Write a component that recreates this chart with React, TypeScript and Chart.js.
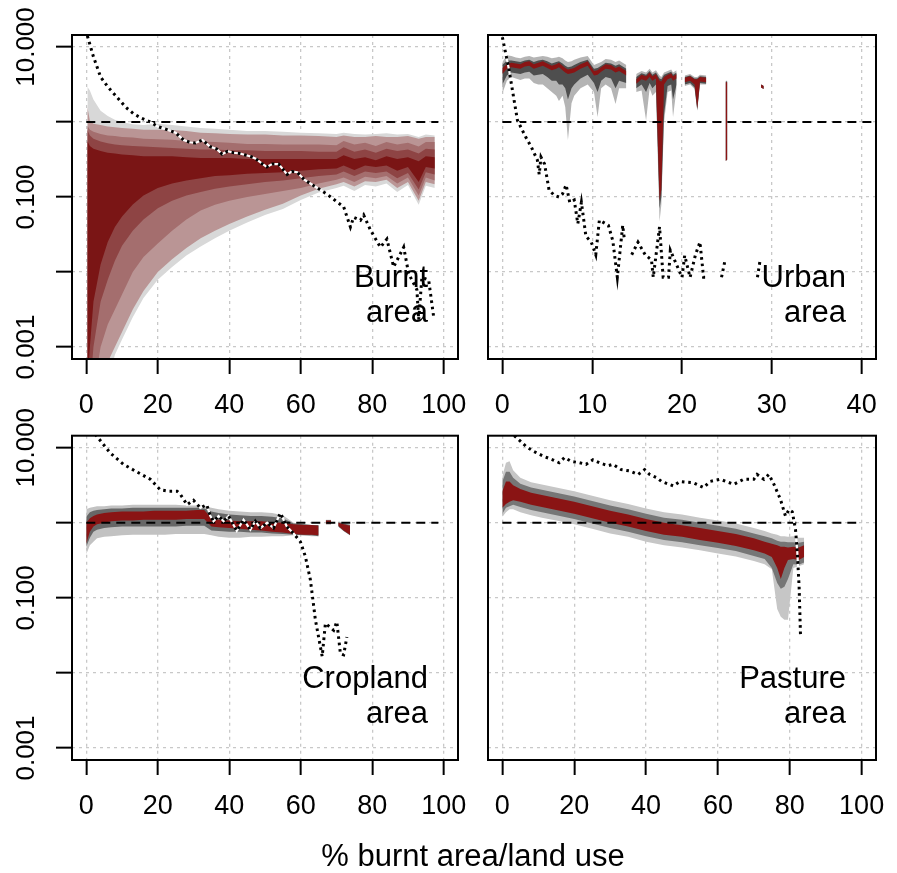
import React, { useEffect, useRef } from "react";
import { Chart, registerables } from "chart.js";

Chart.register(...registerables);

const FONT = '"Liberation Sans", Arimo, Arial, Helvetica, sans-serif';

// ---------- axes ----------
const Y_MIN = 0.000692;
const Y_MAX = 14.45;
const yTicks = [0.001, 0.01, 0.1, 1, 10];
const yTickLabels = ["0.001", "", "0.100", "", "10.000"];
const xTicksPct = [0, 20, 40, 60, 80, 100];
const xTicksUrban = [0, 10, 20, 30, 40];
const refLevel = 1;
const refEndPct = 98.5;
const refEndUrban = 41.2;

// ---------- Burnt area ----------
const burntX = [0.3, 1, 2, 4, 6, 8, 10, 13, 16, 20, 24, 28, 32, 36, 40, 45, 50, 55, 60, 65, 70, 72, 75, 78, 81, 84, 87, 90, 93, 95, 97.5];
const burntGrayHi = [2.95, 2.63, 2.0, 1.41, 1.2, 1.07, 1.0, 0.93, 0.91, 0.95, 0.91, 0.87, 0.83, 0.81, 0.79, 0.76, 0.76, 0.74, 0.72, 0.71, 0.69, 0.72, 0.69, 0.68, 0.69, 0.71, 0.68, 0.69, 0.63, 0.68, 0.66];
const burntGrayLo = [0.0001, 0.0001, 0.0001, 0.0001, 0.00032, 0.00079, 0.00126, 0.0025, 0.0045, 0.0079, 0.0117, 0.0166, 0.0219, 0.0282, 0.0355, 0.0457, 0.0575, 0.0692, 0.0912, 0.115, 0.132, 0.141, 0.12, 0.145, 0.138, 0.151, 0.117, 0.145, 0.079, 0.141, 0.132];
const burntQ1Hi = [1.58, 1.05, 0.95, 0.91, 0.87, 0.85, 0.83, 0.81, 0.79, 0.79, 0.78, 0.76, 0.72, 0.71, 0.69, 0.68, 0.68, 0.66, 0.66, 0.65, 0.63, 0.66, 0.63, 0.63, 0.65, 0.63, 0.63, 0.65, 0.6, 0.63, 0.63];
const burntQ1Lo = [0.0001, 0.0001, 0.0001, 0.00032, 0.00063, 0.001, 0.00158, 0.00316, 0.0056, 0.01, 0.0148, 0.0209, 0.0282, 0.0355, 0.0437, 0.055, 0.0676, 0.0813, 0.105, 0.129, 0.148, 0.158, 0.138, 0.162, 0.158, 0.17, 0.132, 0.158, 0.089, 0.158, 0.148];
const burntQ2Hi = [0.89, 0.79, 0.74, 0.69, 0.66, 0.65, 0.63, 0.62, 0.6, 0.59, 0.58, 0.56, 0.55, 0.54, 0.53, 0.51, 0.51, 0.5, 0.5, 0.5, 0.49, 0.56, 0.5, 0.53, 0.48, 0.54, 0.5, 0.53, 0.47, 0.54, 0.54];
const burntQ2Lo = [0.0001, 0.0001, 0.00025, 0.001, 0.002, 0.00316, 0.005, 0.01, 0.0158, 0.024, 0.0355, 0.05, 0.066, 0.079, 0.089, 0.1, 0.11, 0.12, 0.132, 0.151, 0.17, 0.182, 0.158, 0.186, 0.178, 0.191, 0.151, 0.182, 0.105, 0.182, 0.166];
const burntQ3Hi = [0.79, 0.66, 0.6, 0.55, 0.52, 0.5, 0.49, 0.48, 0.47, 0.46, 0.45, 0.44, 0.43, 0.43, 0.42, 0.42, 0.41, 0.41, 0.41, 0.4, 0.4, 0.46, 0.4, 0.43, 0.39, 0.44, 0.41, 0.43, 0.38, 0.44, 0.43];
const burntQ3Lo = [0.0001, 0.00025, 0.001, 0.004, 0.0079, 0.0141, 0.0224, 0.0355, 0.05, 0.0708, 0.0891, 0.105, 0.117, 0.129, 0.138, 0.148, 0.158, 0.166, 0.178, 0.191, 0.2, 0.219, 0.191, 0.219, 0.209, 0.219, 0.178, 0.209, 0.126, 0.214, 0.2];
const burntQ4Hi = [0.56, 0.48, 0.44, 0.41, 0.39, 0.38, 0.37, 0.36, 0.35, 0.35, 0.35, 0.34, 0.33, 0.33, 0.33, 0.32, 0.32, 0.32, 0.32, 0.32, 0.32, 0.36, 0.32, 0.34, 0.31, 0.35, 0.32, 0.34, 0.3, 0.35, 0.34];
const burntQ4Lo = [0.00032, 0.001, 0.004, 0.0126, 0.0251, 0.0398, 0.055, 0.0794, 0.105, 0.132, 0.151, 0.166, 0.178, 0.191, 0.195, 0.204, 0.209, 0.214, 0.224, 0.234, 0.24, 0.263, 0.229, 0.263, 0.251, 0.263, 0.224, 0.251, 0.158, 0.251, 0.24];
const burntLineX = [0.3, 2, 4, 6, 8.6, 11, 13.2, 15.5, 17.9, 20, 22.6, 25, 27.2, 29, 30.5, 32.5, 34.7, 36.5, 38, 39.5, 41.3, 43, 44.5, 46, 47.4, 49, 50.5, 52, 53.8, 56.2, 57.5, 59, 61, 64, 67.6, 70, 72, 73.9, 74.8, 76.7, 77.6, 79.5, 82.3, 84.1, 86, 88.8, 90.2, 92.5, 93, 93.9, 95.8, 97.2];
const burntLineY = [14.1, 7.41, 3.98, 2.95, 2.14, 1.58, 1.29, 1.12, 1.0, 0.87, 0.79, 0.72, 0.575, 0.537, 0.525, 0.575, 0.468, 0.437, 0.372, 0.407, 0.389, 0.38, 0.363, 0.347, 0.324, 0.282, 0.251, 0.275, 0.275, 0.2, 0.219, 0.214, 0.17, 0.138, 0.107, 0.087, 0.074, 0.0398, 0.0537, 0.049, 0.0575, 0.0363, 0.0214, 0.0275, 0.0117, 0.0214, 0.0095, 0.0058, 0.0023, 0.0085, 0.0078, 0.0025];

// ---------- Urban area ----------
const urbanX = [0, 0.5, 1, 1.5, 2, 2.5, 3, 3.5, 4, 4.5, 5, 5.5, 6, 6.3, 6.7, 7, 7.3, 7.7, 8, 8.7, 9.5, 10.2, 10.6, 11, 11.5, 12.1, 12.6, 13, 13.8, 14.3, 14.9, 15.5, 16, 16.4, 16.7, 17.1, 17.5, 17.7, 18, 18.4, 18.8, 19, 19.4, 19.9, 20.3, 20.9, 21.4, 21.7, 22, 22.7, 23.3, 24.85, 25.05, 26, 28.8, 29.1];
const urbanGrayHi = [6.31, 7.76, 7.59, 7.24, 7.08, 7.41, 7.59, 7.24, 7.41, 7.59, 7.41, 7.08, 7.24, 7.41, 7.08, 6.61, 6.31, 6.46, 6.76, 7.24, 7.59, 5.75, 6.03, 6.31, 6.92, 6.76, 6.31, 6.61, 5.75, null, 4.37, 4.79, 4.57, 5.13, 4.57, 4.9, 4.17, 3.98, 4.57, 4.79, 5.01, 4.57, 4.9, null, 4.17, 4.37, 3.98, 3.98, 4.27, 4.17, null, 3.55, 3.55, null, 3.16, 3.02];
const urbanDarkHi = [5.75, 6.61, 6.61, 6.46, 6.31, 6.61, 6.76, 6.31, 6.61, 6.76, 6.46, 6.03, 6.31, 6.46, 6.03, 5.62, 5.37, 5.5, 5.75, 6.31, 6.76, 5.13, 5.25, 5.62, 6.17, 6.03, 5.62, 5.89, 5.13, null, 3.98, 4.47, 4.27, 4.79, 4.27, 4.57, 3.8, 3.72, 4.27, 4.47, 4.68, 4.27, 4.57, null, 3.98, 4.17, 3.8, 3.8, 4.07, 3.98, null, 3.47, 3.47, null, 3.16, 3.02];
const urbanRedHi = [5.25, 5.89, 6.17, 6.03, 5.89, 6.31, 6.46, 5.89, 6.17, 6.46, 6.03, 5.62, 5.89, 6.17, 5.62, 5.25, 5.01, 5.13, 5.25, 5.89, 6.46, 4.79, 4.9, 5.37, 5.89, 5.75, 5.25, 5.5, 4.79, null, 3.72, 4.27, 4.07, 4.57, 4.07, 4.37, 3.55, 3.47, 3.98, 4.27, 4.47, 4.07, 4.37, null, 3.89, 4.07, 3.72, 3.72, 3.98, 3.89, null, 3.39, 3.39, null, 3.16, 3.02];
const urbanRedLo = [4.37, 5.13, 5.37, 5.25, 5.13, 5.5, 5.62, 5.13, 5.37, 5.62, 5.25, 4.9, 5.13, 5.37, 4.9, 4.57, 4.37, 4.47, 4.57, 5.13, 5.62, 4.17, 4.27, 4.68, 5.13, 5.01, 4.57, 4.79, 4.17, null, 3.24, 3.72, 3.55, 3.98, 3.55, 3.8, 0.089, 0.126, 3.16, 3.72, 3.89, 3.55, 3.8, null, 3.39, 3.55, 3.16, 1.51, 3.47, 3.39, null, 0.302, 0.316, null, 2.88, 2.75];
const urbanDarkLo = [3.16, 4.17, 4.57, 4.47, 4.37, 4.57, 4.68, 4.17, 4.27, 4.37, 3.98, 3.55, 3.55, 3.16, 3.16, 2.82, 2.0, 2.82, 3.16, 3.8, 4.27, 3.31, 2.51, 3.55, 3.98, 3.8, 2.82, 3.55, 3.31, null, 2.82, 3.16, 2.51, 3.31, 2.82, 3.16, 0.071, 0.1, 1.26, 3.02, 3.16, 2.0, 3.16, null, 3.16, 3.31, 2.88, 1.45, 3.31, 3.24, null, 0.302, 0.316, null, 2.88, 2.75];
const urbanGrayLo = [2.4, 3.55, 3.98, 3.8, 3.63, 3.8, 3.8, 3.31, 3.16, 3.16, 2.82, 2.51, 2.24, 1.91, 2.24, 1.58, 0.575, 1.78, 2.24, 2.82, 3.16, 2.51, 1.17, 2.82, 3.16, 2.82, 1.74, 2.82, 2.82, null, 2.51, 2.63, 1.05, 2.82, 2.24, 2.51, 0.047, 0.079, 1.0, 2.51, 2.63, 1.17, 2.82, null, 3.02, 3.16, 2.75, 1.41, 3.16, 3.16, null, 0.302, 0.316, null, 2.88, 2.75];
const urbanLineX = [0, 0.75, 1.68, 2.6, 3.2, 3.9, 4.1, 4.3, 4.7, 5.2, 5.8, 6.3, 6.7, 7.1, 7.5, 8.0, 8.4, 8.8, 9.3, 9.9, 10.4, 10.8, 11.8, 12.3, 12.8, 13.4, 13.6, 14.0, 14.4, 15.1, 15.9, 16.6, 16.8, 17.5, 17.9, 18.5, 18.7, 20, 20.3, 20.9, 21.5, 22, 22.4, 22.8, 23.5, 24.4, 24.8, 26, 28.4, 28.7];
const urbanLineY = [13.5, 4.9, 1.05, 0.63, 0.47, 0.31, 0.2, 0.34, 0.275, 0.123, 0.105, 0.1, 0.11, 0.145, 0.085, 0.091, 0.044, 0.085, 0.03, 0.025, 0.017, 0.049, 0.042, 0.026, 0.0085, 0.042, 0.026, null, 0.017, 0.025, 0.017, 0.0145, 0.0085, 0.04, 0.0085, 0.0085, 0.0195, 0.0085, 0.0166, 0.0085, 0.017, 0.025, 0.0085, 0.0085, null, 0.0085, 0.0145, null, 0.0085, 0.0145];

// ---------- Cropland area ----------
const cropX = [0, 1, 2, 3, 5, 7, 10, 13, 16, 19, 22, 25, 28, 31, 33, 35, 37, 40, 43, 46, 49, 52, 55, 58, 61, 63, 65, 66, 67, 68.5, 69.5, 70.5, 72, 73.8];
const cropGrayHi = [1.51, 1.58, 1.62, 1.66, 1.66, 1.7, 1.7, 1.74, 1.74, 1.74, 1.74, 1.74, 1.7, 1.7, 1.66, 1.58, 1.51, 1.45, 1.41, 1.38, 1.38, 1.35, 1.26, 1.0, 0.955, 0.933, 0.933, null, 1.1, 1.1, null, 1.05, 1.0, 0.955];
const cropDarkHi = [1.2, 1.38, 1.45, 1.48, 1.51, 1.55, 1.55, 1.58, 1.58, 1.58, 1.58, 1.58, 1.58, 1.58, 1.55, 1.41, 1.35, 1.29, 1.26, 1.23, 1.23, 1.2, 1.15, 0.98, 0.955, 0.933, 0.933, null, 1.08, 1.08, null, 1.02, 0.98, 0.933];
const cropRedHi = [1.0, 1.15, 1.23, 1.29, 1.35, 1.38, 1.41, 1.41, 1.41, 1.45, 1.45, 1.45, 1.45, 1.48, 1.48, 1.15, 1.1, 1.07, 1.05, 1.05, 1.05, 1.02, 1.0, 0.955, 0.933, 0.933, 0.912, null, 1.07, 1.07, null, 1.0, 0.955, 0.912];
const cropRedLo = [0.525, 0.76, 0.89, 0.955, 1.0, 1.05, 1.07, 1.07, 1.1, 1.1, 1.1, 1.1, 1.12, 1.12, 1.12, 0.89, 0.87, 0.85, 0.83, 0.81, 0.79, 0.76, 0.74, 0.71, 0.69, 0.69, 0.68, null, 0.98, 0.98, null, 0.91, 0.79, 0.69];
const cropDarkLo = [0.48, 0.63, 0.76, 0.81, 0.85, 0.87, 0.89, 0.89, 0.89, 0.89, 0.89, 0.89, 0.91, 0.91, 0.91, 0.79, 0.78, 0.76, 0.76, 0.74, 0.74, 0.72, 0.71, 0.69, 0.68, 0.68, 0.66, null, 0.955, 0.955, null, 0.89, 0.78, 0.68];
const cropGrayLo = [0.38, 0.5, 0.56, 0.62, 0.65, 0.66, 0.68, 0.69, 0.69, 0.69, 0.69, 0.71, 0.71, 0.71, 0.71, 0.68, 0.65, 0.63, 0.63, 0.65, 0.65, 0.66, 0.66, 0.68, 0.68, 0.66, 0.66, null, 0.955, 0.955, null, 0.89, 0.78, 0.68];
const cropLineX = [2.5, 6.7, 10.4, 14, 17.9, 20.7, 23, 25.4, 26.3, 28.2, 30, 31.9, 33.7, 34.7, 35.6, 37, 38.4, 39.8, 42.1, 44, 45.9, 47.3, 48.7, 50.6, 52.4, 54.3, 56.1, 58, 59.9, 61.3, 62.7, 64.1, 66, 66.9, 69.2, 70.1, 71.1, 72, 72.9];
const cropLineY = [15.1, 8.5, 6.0, 4.8, 3.8, 2.75, 2.63, 2.63, 2.4, 1.74, 2.0, 1.58, 1.74, 1.23, 1.05, 1.23, 1.05, 1.23, 0.78, 1.1, 0.81, 1.05, 0.85, 1.0, 0.85, 1.35, 0.89, 0.72, 0.56, 0.355, 0.174, 0.051, 0.0166, 0.0457, 0.037, 0.048, 0.018, 0.0174, 0.03];

// ---------- Pasture area ----------
const pastX = [0, 1, 2, 3, 5, 8, 11, 15, 20, 25, 30, 35, 40, 45, 50, 55, 60, 65, 70, 73, 75, 76.5, 77.5, 78.5, 79.5, 81, 82.5, 84];
const pastGrayHi = [4.17, 6.31, 6.6, 5.0, 3.98, 3.47, 3.24, 2.95, 2.63, 2.29, 2.0, 1.78, 1.55, 1.38, 1.29, 1.17, 1.07, 0.98, 0.85, 0.78, 0.72, 0.69, 0.66, 0.66, 0.65, 0.66, 0.63, 0.63];
const pastDarkHi = [3.55, 4.8, 4.8, 3.98, 3.31, 2.95, 2.75, 2.51, 2.24, 1.95, 1.7, 1.51, 1.32, 1.17, 1.1, 1.0, 0.91, 0.83, 0.72, 0.66, 0.62, 0.575, 0.56, 0.56, 0.55, 0.55, 0.54, 0.56];
const pastRedHi = [2.63, 3.55, 3.55, 3.16, 2.82, 2.51, 2.34, 2.14, 1.91, 1.66, 1.45, 1.29, 1.12, 1.0, 0.93, 0.85, 0.78, 0.71, 0.62, 0.56, 0.525, 0.5, 0.48, 0.48, 0.47, 0.48, 0.47, 0.5];
const pastRedLo = [1.58, 1.78, 1.91, 2.0, 1.91, 1.74, 1.62, 1.48, 1.32, 1.15, 1.0, 0.89, 0.78, 0.69, 0.65, 0.59, 0.54, 0.49, 0.43, 0.39, 0.35, 0.25, 0.178, 0.25, 0.32, 0.33, 0.32, 0.35];
const pastDarkLo = [1.32, 1.58, 1.66, 1.74, 1.62, 1.48, 1.38, 1.26, 1.12, 0.98, 0.85, 0.76, 0.66, 0.59, 0.55, 0.5, 0.46, 0.42, 0.36, 0.33, 0.25, 0.158, 0.132, 0.141, 0.178, 0.28, 0.275, 0.295];
const pastGrayLo = [1.2, 1.38, 1.51, 1.51, 1.38, 1.26, 1.17, 1.07, 0.955, 0.83, 0.72, 0.65, 0.56, 0.5, 0.47, 0.43, 0.39, 0.355, 0.31, 0.28, 0.24, 0.071, 0.056, 0.051, 0.051, 0.25, 0.263, 0.28];
const pastLineX = [3.3, 6.5, 8.4, 11.2, 14, 15.8, 17.3, 19.1, 21.5, 23.3, 25.2, 27, 29.4, 30.8, 33.1, 35.4, 37.8, 39.6, 41, 42.9, 44.3, 47.6, 49.4, 53.2, 56, 57.8, 60.6, 64.4, 67.2, 70, 70.9, 72.8, 74.2, 75.6, 77.4, 78.8, 79.8, 80.7, 81.6, 82.1, 82.6, 83];
const pastLineY = [14.5, 10.5, 9.1, 7.8, 6.9, 6.3, 7.4, 6.6, 6.3, 6.0, 6.9, 6.3, 5.75, 6.0, 5.1, 4.9, 4.4, 5.1, 4.4, 4.0, 3.55, 3.1, 3.55, 3.4, 2.95, 3.55, 3.8, 3.25, 3.8, 3.8, 4.4, 3.8, 4.4, 3.25, 2.05, 1.23, 1.5, 1.4, 0.81, 0.4, 0.14, 0.03];

// ---------- colours ----------
const GRID = "#c8c8c8";
const C_LGRAY = "#d8d8d8";
const C_Q1 = "#ba9595";
const C_Q2 = "#a46e6e";
const C_Q3 = "#8e4444";
const C_Q4 = "#7a1515";
const C_RED = "#8a1414";

const toPts = (xs: number[], ys: (number | null)[]) => xs.map((x, i) => ({ x, y: ys[i] }));

function buildDatasets(xs: number[], bands: any[], lineX: number[], lineY: (number | null)[], refEnd: number) {
  const ds: any[] = [];
  bands.forEach((b, k) => {
    const ord = 50 - k;
    ds.push({
      data: toPts(xs, b.hi), fill: "+1", backgroundColor: b.color,
      borderColor: "rgba(0,0,0,0)", borderWidth: 0, pointRadius: 0, order: ord, spanGaps: false,
    });
    ds.push({
      data: toPts(xs, b.lo), fill: false,
      borderColor: "rgba(0,0,0,0)", borderWidth: 0, pointRadius: 0, order: ord, spanGaps: false,
    });
  });
  ds.push({
    data: [{ x: 0, y: refLevel }, { x: refEnd, y: refLevel }],
    borderColor: "#000", borderWidth: 2, borderDash: [9, 6], pointRadius: 0, fill: false, order: 3,
  });
  ds.push({
    data: toPts(lineX, lineY), borderColor: "#ffffff", borderWidth: 2.2, pointRadius: 0,
    fill: false, order: 2, spanGaps: false,
  });
  ds.push({
    data: toPts(lineX, lineY), borderColor: "#000", borderWidth: 3, borderDash: [2.6, 3.8],
    pointRadius: 0, fill: false, order: 1, spanGaps: false,
  });
  return ds;
}

const decorPlugin = {
  id: "decor",
  afterDraw(chart: any, _args: any, opts: any) {
    const { ctx, chartArea: a } = chart;
    const xs = chart.scales.x;
    const ys = chart.scales.y;
    ctx.save();
    ctx.setLineDash([]);
    ctx.strokeStyle = "#000";
    ctx.lineWidth = 2;
    ctx.strokeRect(a.left, a.top, a.right - a.left, a.bottom - a.top);
    ctx.fillStyle = "#000";
    ctx.font = `27px ${FONT}`;
    ctx.textAlign = "center";
    ctx.textBaseline = "middle";
    opts.xTicks.forEach((v: number) => ctx.fillText(String(v), xs.getPixelForValue(v), a.bottom + 47));
    if (opts.yLabels) {
      ctx.font = `26px ${FONT}`;
      yTicks.forEach((v, i) => {
        const t = yTickLabels[i];
        if (!t) return;
        ctx.save();
        ctx.translate(26.5, ys.getPixelForValue(v));
        ctx.rotate(-Math.PI / 2);
        ctx.fillText(t, 0, 0);
        ctx.restore();
      });
    }
    ctx.font = `31px ${FONT}`;
    ctx.textAlign = "right";
    ctx.textBaseline = "alphabetic";
    ctx.fillText(opts.label[0], opts.labelRight, a.top + 252);
    ctx.fillText(opts.label[1], opts.labelRight, a.top + 287);
    ctx.restore();
  },
};

function makeConfig(p: any) {
  return {
    type: "line",
    data: { datasets: p.datasets },
    options: {
      responsive: false,
      animation: false,
      devicePixelRatio: 1,
      events: [],
      layout: { padding: p.padding },
      plugins: {
        legend: { display: false },
        tooltip: { enabled: false },
        decor: { xTicks: p.xTicks, yLabels: p.yLabels, label: p.label, labelRight: p.labelRight },
      },
      scales: {
        x: {
          type: "linear",
          min: p.xMin,
          max: p.xMax,
          afterBuildTicks: (s: any) => { s.ticks = p.xTicks.map((v: number) => ({ value: v })); },
          afterFit: (s: any) => { s.height = 30; },
          ticks: { display: false },
          grid: {
            color: GRID, lineWidth: 1.3, drawTicks: true, tickLength: 15,
            tickColor: "#000", tickWidth: 2, tickBorderDash: [],
          },
          border: { display: false, dash: [3, 4] },
        },
        y: {
          type: "logarithmic",
          min: Y_MIN,
          max: Y_MAX,
          afterBuildTicks: (s: any) => { s.ticks = yTicks.map((v) => ({ value: v })); },
          afterFit: (s: any) => { s.width = p.yWidth; },
          ticks: { display: false },
          grid: {
            color: GRID, lineWidth: 1.3, drawTicks: p.yLabels, tickLength: 16,
            tickColor: "#000", tickWidth: 2, tickBorderDash: [],
          },
          border: { display: false, dash: [3, 4] },
        },
      },
    },
    plugins: [decorPlugin],
  };
}

export default function App() {
  const r1 = useRef<HTMLCanvasElement>(null);
  const r2 = useRef<HTMLCanvasElement>(null);
  const r3 = useRef<HTMLCanvasElement>(null);
  const r4 = useRef<HTMLCanvasElement>(null);

  useEffect(() => {
    const burntBands = [
      { hi: burntGrayHi, lo: burntGrayLo, color: C_LGRAY },
      { hi: burntQ1Hi, lo: burntQ1Lo, color: C_Q1 },
      { hi: burntQ2Hi, lo: burntQ2Lo, color: C_Q2 },
      { hi: burntQ3Hi, lo: burntQ3Lo, color: C_Q3 },
      { hi: burntQ4Hi, lo: burntQ4Lo, color: C_Q4 },
    ];
    const urbanBands = [
      { hi: urbanGrayHi, lo: urbanGrayLo, color: "#b4b4b4" },
      { hi: urbanDarkHi, lo: urbanDarkLo, color: "#4e4e4e" },
      { hi: urbanRedHi, lo: urbanRedLo, color: C_RED },
    ];
    const cropBands = [
      { hi: cropGrayHi, lo: cropGrayLo, color: "#c2c2c2" },
      { hi: cropDarkHi, lo: cropDarkLo, color: "#676767" },
      { hi: cropRedHi, lo: cropRedLo, color: C_RED },
    ];
    const pastBands = [
      { hi: pastGrayHi, lo: pastGrayLo, color: "#c6c6c6" },
      { hi: pastDarkHi, lo: pastDarkLo, color: "#767676" },
      { hi: pastRedHi, lo: pastRedLo, color: C_RED },
    ];

    const charts = [
      new Chart(r1.current as any, makeConfig({
        datasets: buildDatasets(burntX, burntBands, burntLineX, burntLineY, refEndPct),
        padding: { left: 0, top: 35, right: 22, bottom: 31 },
        yWidth: 72, yLabels: true, xTicks: xTicksPct, xMin: -4, xMax: 104,
        label: ["Burnt", "area"], labelRight: 428,
      }) as any),
      new Chart(r2.current as any, makeConfig({
        datasets: buildDatasets(urbanX, urbanBands, urbanLineX, urbanLineY, refEndUrban),
        padding: { left: 0, top: 35, right: 21, bottom: 31 },
        yWidth: 28, yLabels: false, xTicks: xTicksUrban, xMin: -1.6, xMax: 41.6,
        label: ["Urban", "area"], labelRight: 386,
      }) as any),
      new Chart(r3.current as any, makeConfig({
        datasets: buildDatasets(cropX, cropBands, cropLineX, cropLineY, refEndPct),
        padding: { left: 0, top: 35.7, right: 22, bottom: 83 },
        yWidth: 72, yLabels: true, xTicks: xTicksPct, xMin: -4, xMax: 104,
        label: ["Cropland", "area"], labelRight: 428,
      }) as any),
      new Chart(r4.current as any, makeConfig({
        datasets: buildDatasets(pastX, pastBands, pastLineX, pastLineY, refEndPct),
        padding: { left: 0, top: 35.7, right: 21, bottom: 83 },
        yWidth: 28, yLabels: false, xTicks: xTicksPct, xMin: -4, xMax: 104,
        label: ["Pasture", "area"], labelRight: 386,
      }) as any),
    ];
    return () => charts.forEach((c) => c.destroy());
  }, []);

  const cv = (left: number, top: number, w: number, h: number) => ({
    position: "absolute" as const, left, top, width: w, height: h,
  });

  return (
    <div style={{ position: "absolute", left: 0, top: 0, width: 897, height: 873, background: "#fff", overflow: "hidden" }}>
      <canvas ref={r1} width={480} height={420} style={cv(0, 0, 480, 420)} />
      <canvas ref={r2} width={437} height={420} style={cv(460, 0, 437, 420)} />
      <canvas ref={r3} width={480} height={473} style={cv(0, 400, 480, 473)} />
      <canvas ref={r4} width={437} height={473} style={cv(460, 400, 437, 473)} />
      <div
        style={{
          position: "absolute", left: 173, width: 600, top: 840, textAlign: "center",
          fontFamily: FONT, fontSize: 31, lineHeight: "31px", color: "#000", whiteSpace: "nowrap",
        }}
      >
        % burnt area/land use
      </div>
    </div>
  );
}
